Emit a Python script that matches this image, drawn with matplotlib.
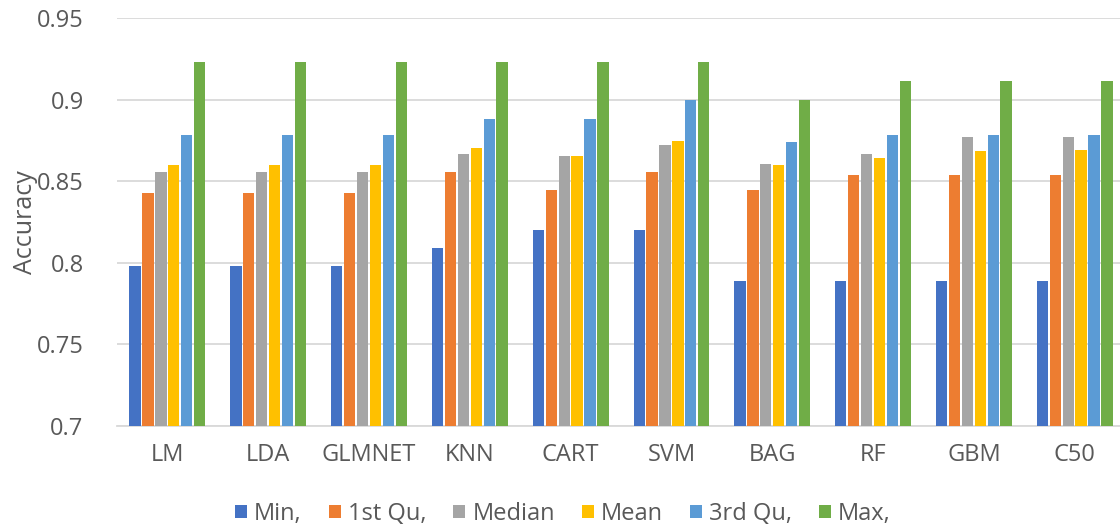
import matplotlib.pyplot as plt
import numpy as np

plt.rcParams['font.family'] = ['Open Sans', 'DejaVu Sans']

# Summary of resampled accuracy per model
models = ['LM', 'LDA', 'GLMNET', 'KNN', 'CART', 'SVM', 'BAG', 'RF', 'GBM', 'C50']
stats = ['Min,', '1st Qu,', 'Median', 'Mean', '3rd Qu,', 'Max,']

acc_min = [0.7980, 0.7980, 0.7980, 0.8093, 0.8203, 0.8203, 0.7886, 0.7886, 0.7886, 0.7886]
acc_q1 = [0.8430, 0.8430, 0.8430, 0.8556, 0.8445, 0.8556, 0.8445, 0.8541, 0.8541, 0.8541]
acc_median = [0.8556, 0.8556, 0.8556, 0.8668, 0.8656, 0.8722, 0.8603, 0.8668, 0.8769, 0.8769]
acc_mean = [0.8597, 0.8597, 0.8597, 0.8703, 0.8656, 0.8748, 0.8597, 0.8642, 0.8683, 0.8689]
acc_q3 = [0.8783, 0.8783, 0.8783, 0.8881, 0.8881, 0.8996, 0.8742, 0.8783, 0.8783, 0.8783]
acc_max = [0.9231, 0.9231, 0.9231, 0.9231, 0.9231, 0.9231, 0.9000, 0.9113, 0.9113, 0.9113]

series = [acc_min, acc_q1, acc_median, acc_mean, acc_q3, acc_max]
colors = ['#4472C4', '#ED7D31', '#A5A5A5', '#FFC000', '#5B9BD5', '#70AD47']

text_col = '#595959'
grid_col = '#D9D9D9'

fig = plt.figure(figsize=(11.2, 5.3), dpi=100)
ax = fig.add_axes([117 / 1120, 104 / 530, 1 - 117 / 1120, 408 / 530])

x = np.arange(len(models))
slot = 0.128
bar_w = 0.112
for i, (vals, col, name) in enumerate(zip(series, colors, stats)):
    offs = (i - 2.5) * slot
    ax.bar(x + offs, np.array(vals) - 0.7, bar_w, bottom=0.7, color=col,
           label=name, zorder=3)

ax.set_ylim(0.7, 0.95)
ax.set_xlim(-0.5, 9.45)
ax.set_yticks([0.7, 0.75, 0.8, 0.85, 0.9, 0.95])
ax.set_yticklabels(['0.7', '0.75', '0.8', '0.85', '0.9', '0.95'])
ax.set_xticks(x)
ax.set_xticklabels(models)
ax.yaxis.grid(True, color=grid_col, linewidth=1.3, zorder=0)
ax.set_axisbelow(True)
for s in ['top', 'right', 'left']:
    ax.spines[s].set_visible(False)
ax.spines['bottom'].set_color(grid_col)
ax.spines['bottom'].set_linewidth(1.3)
ax.tick_params(axis='both', length=0, labelsize=17, labelcolor=text_col)
ax.tick_params(axis='y', pad=24)
ax.tick_params(axis='x', pad=12)
ax.set_ylabel('Accuracy', fontsize=18, color=text_col, labelpad=-1)

fig.legend(loc='center', bbox_to_anchor=(563 / 1120, 16 / 530), ncol=6,
           frameon=False, fontsize=17, handlelength=0.5, handleheight=0.5,
           handletextpad=0.3, columnspacing=1.15, labelcolor=text_col)

fig.savefig('out.png', dpi=100)
